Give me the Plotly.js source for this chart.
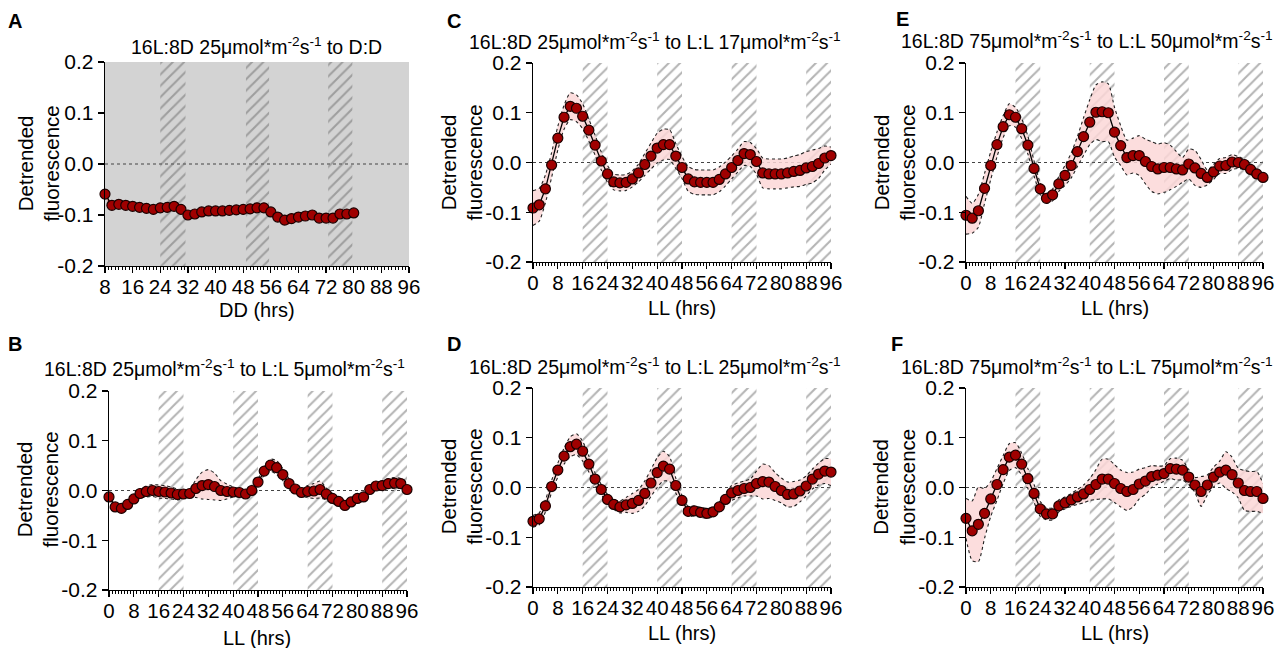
<!DOCTYPE html>
<html>
<head>
<meta charset="utf-8">
<script src="https://cdn.plot.ly/plotly-3.0.1.min.js"></script>
<style>html,body{margin:0;padding:0;background:#fff;}#chart{width:1278px;height:648px;}</style>
</head>
<body>
<div id="chart"></div>
<script>
// ---------- DATA ----------
const hoursDD = [8,10,12,14,16,18,20,22,24,26,28,30,32,34,36,38,40,42,44,46,48,50,52,54,56,58,60,62,64,66,68,70,72,74,76,78,80];
const hoursLL = [0,2,4,6,8,10,12,14,16,18,20,22,24,26,28,30,32,34,36,38,40,42,44,46,48,50,52,54,56,58,60,62,64,66,68,70,72,74,76,78,80,82,84,86,88,90,92,94,96];

const meanA = [-0.059,-0.081,-0.079,-0.081,-0.083,-0.085,-0.087,-0.089,-0.086,-0.085,-0.083,-0.089,-0.100,-0.098,-0.094,-0.092,-0.092,-0.092,-0.091,-0.090,-0.089,-0.088,-0.086,-0.086,-0.094,-0.104,-0.110,-0.107,-0.104,-0.102,-0.100,-0.106,-0.106,-0.106,-0.098,-0.098,-0.096];
const semA  = [0.002,0.002,0.002,0.002,0.002,0.002,0.002,0.002,0.002,0.002,0.002,0.002,0.002,0.002,0.002,0.002,0.002,0.002,0.002,0.002,0.002,0.002,0.002,0.002,0.004,0.008,0.009,0.008,0.007,0.006,0.006,0.006,0.007,0.007,0.004,0.003,0.003];

const meanB = [-0.013,-0.033,-0.036,-0.028,-0.017,-0.006,-0.002,0.000,-0.002,-0.003,-0.005,-0.008,-0.007,-0.006,0.004,0.010,0.012,0.008,0.000,-0.002,-0.003,-0.004,-0.007,0.000,0.017,0.039,0.051,0.046,0.032,0.014,0.003,-0.004,-0.002,-0.001,0.002,-0.007,-0.016,-0.022,-0.030,-0.023,-0.016,-0.013,0.002,0.009,0.010,0.014,0.015,0.014,0.002];
const semB  = [0.004,0.004,0.004,0.004,0.006,0.009,0.011,0.012,0.013,0.013,0.012,0.011,0.009,0.008,0.018,0.027,0.030,0.027,0.020,0.015,0.010,0.008,0.006,0.005,0.006,0.008,0.012,0.014,0.012,0.010,0.008,0.008,0.012,0.015,0.017,0.012,0.010,0.008,0.007,0.007,0.008,0.008,0.008,0.008,0.009,0.010,0.011,0.010,0.008];

const meanC = [-0.0915,-0.085,-0.053,-0.005,0.049,0.091,0.113,0.109,0.093,0.065,0.035,0.003,-0.023,-0.039,-0.041,-0.040,-0.033,-0.021,-0.004,0.013,0.029,0.036,0.036,0.013,-0.010,-0.033,-0.039,-0.040,-0.040,-0.040,-0.034,-0.023,-0.010,0.004,0.018,0.016,0.002,-0.021,-0.023,-0.023,-0.023,-0.021,-0.018,-0.016,-0.011,-0.008,-0.002,0.009,0.014];
const semC  = [0.035,0.033,0.028,0.025,0.024,0.024,0.027,0.027,0.025,0.022,0.020,0.018,0.017,0.016,0.016,0.016,0.016,0.018,0.022,0.026,0.030,0.031,0.030,0.025,0.022,0.025,0.025,0.025,0.025,0.025,0.025,0.024,0.023,0.023,0.024,0.024,0.026,0.030,0.030,0.030,0.030,0.030,0.031,0.032,0.033,0.033,0.030,0.024,0.017];

const meanD = [-0.068,-0.063,-0.037,0.002,0.035,0.063,0.082,0.087,0.073,0.047,0.017,-0.004,-0.024,-0.034,-0.039,-0.035,-0.032,-0.026,-0.012,0.009,0.030,0.043,0.037,0.004,-0.026,-0.048,-0.047,-0.050,-0.052,-0.049,-0.039,-0.024,-0.011,-0.006,-0.002,0.000,0.008,0.012,0.011,0.002,-0.006,-0.014,-0.013,-0.007,0.003,0.017,0.027,0.033,0.031];
const semD  = [0.012,0.012,0.012,0.012,0.014,0.016,0.020,0.021,0.020,0.016,0.012,0.010,0.010,0.010,0.012,0.015,0.020,0.022,0.025,0.027,0.030,0.030,0.025,0.015,0.010,0.010,0.010,0.010,0.010,0.010,0.010,0.012,0.015,0.015,0.015,0.017,0.025,0.035,0.033,0.028,0.025,0.025,0.025,0.022,0.020,0.020,0.022,0.025,0.027];

const meanE = [-0.106,-0.112,-0.097,-0.052,-0.006,0.036,0.072,0.096,0.091,0.068,0.035,-0.012,-0.053,-0.072,-0.065,-0.043,-0.026,-0.006,0.022,0.052,0.081,0.101,0.102,0.100,0.061,0.034,0.010,0.014,0.014,0.002,-0.008,-0.013,-0.010,-0.010,-0.013,-0.015,-0.003,-0.011,-0.022,-0.030,-0.019,-0.007,-0.006,0.001,0.000,-0.004,-0.014,-0.023,-0.030];
const semE  = [0.038,0.030,0.033,0.030,0.028,0.025,0.022,0.022,0.020,0.020,0.018,0.015,0.012,0.010,0.012,0.015,0.020,0.025,0.030,0.038,0.045,0.055,0.060,0.058,0.050,0.040,0.035,0.035,0.040,0.045,0.050,0.050,0.050,0.045,0.035,0.025,0.030,0.035,0.028,0.015,0.015,0.015,0.016,0.015,0.012,0.010,0.010,0.008,0.008];

const meanF = [-0.062,-0.087,-0.074,-0.052,-0.023,0.006,0.036,0.061,0.065,0.047,0.018,-0.012,-0.043,-0.053,-0.053,-0.037,-0.031,-0.025,-0.019,-0.013,-0.004,0.006,0.017,0.017,0.008,-0.002,-0.008,-0.004,0.007,0.013,0.022,0.025,0.028,0.038,0.037,0.035,0.021,0.005,-0.008,0.005,0.021,0.031,0.035,0.026,0.009,-0.006,-0.008,-0.008,-0.022];
const semF  = [0.040,0.060,0.075,0.050,0.035,0.032,0.028,0.027,0.025,0.022,0.020,0.018,0.015,0.012,0.012,0.012,0.012,0.013,0.015,0.018,0.022,0.030,0.040,0.040,0.038,0.037,0.038,0.035,0.030,0.027,0.022,0.018,0.016,0.020,0.022,0.020,0.015,0.015,0.030,0.020,0.020,0.022,0.037,0.035,0.030,0.040,0.040,0.040,0.030];

// subjective-night (hatched) intervals
const nightStartDD = [24, 48.8, 72.6];
const nightEndDD   = [31.3, 55.5, 79.6];
const nightStartLL = [16, 40, 64, 88];
const nightEndLL   = [24, 48, 72, 96];

const xTickVals = [0,8,16,24,32,40,48,56,64,72,80,88,96];
const yTickVals = [-0.2,-0.1,0,0.1,0.2];
const yTickText = ["-0.2","-0.1","0.0","0.1","0.2"];

const titles = {
  A: "16L:8D 25μmol*m<sup>-2</sup>s<sup>-1</sup> to D:D",
  B: "16L:8D 25μmol*m<sup>-2</sup>s<sup>-1</sup> to L:L 5μmol*m<sup>-2</sup>s<sup>-1</sup>",
  C: "16L:8D 25μmol*m<sup>-2</sup>s<sup>-1</sup> to L:L 17μmol*m<sup>-2</sup>s<sup>-1</sup>",
  D: "16L:8D 25μmol*m<sup>-2</sup>s<sup>-1</sup> to L:L 25μmol*m<sup>-2</sup>s<sup>-1</sup>",
  E: "16L:8D 75μmol*m<sup>-2</sup>s<sup>-1</sup> to L:L 50μmol*m<sup>-2</sup>s<sup>-1</sup>",
  F: "16L:8D 75μmol*m<sup>-2</sup>s<sup>-1</sup> to L:L 75μmol*m<sup>-2</sup>s<sup>-1</sup>"
};
const xTitles = {A:"DD (hrs)", B:"LL (hrs)", C:"LL (hrs)", D:"LL (hrs)", E:"LL (hrs)", F:"LL (hrs)"};
const yTitle = "Detrended<br>fluorescence";

// ---------- LAYOUT GEOMETRY (pixels) ----------
const W = 1278, H = 648;
const FONT = "Liberation Sans, Arial, Helvetica, sans-serif";
const px = v => v / W;
const py = v => 1 - v / H;

const panels = [
  {id:"A", ax:"",  x:hoursDD, m:meanA, s:semA, range:[8,96], ns:nightStartDD, ne:nightEndDD, box:[105,409,62,266], gray:true,
   title:[256,46], xt:[257,310], yt:[38.5,164], letter:[15,21]},
  {id:"C", ax:"2", x:hoursLL, m:meanC, s:semC, range:[0,96], ns:nightStartLL, ne:nightEndLL, box:[533,831,63,262],
   title:[655,41], xt:[682,308], yt:[461.5,163], letter:[454,21]},
  {id:"E", ax:"3", x:hoursLL, m:meanE, s:semE, range:[0,96], ns:nightStartLL, ne:nightEndLL, box:[966,1263,63,262],
   title:[1087,40], xt:[1115,308], yt:[894.5,163], letter:[902,19]},
  {id:"B", ax:"4", x:hoursLL, m:meanB, s:semB, range:[0,96], ns:nightStartLL, ne:nightEndLL, box:[109,407,391,590],
   title:[225,368], xt:[257,638], yt:[37.5,490], letter:[15,344]},
  {id:"D", ax:"5", x:hoursLL, m:meanD, s:semD, range:[0,96], ns:nightStartLL, ne:nightEndLL, box:[533,831,388,587],
   title:[655,366], xt:[682,633], yt:[461.5,487], letter:[454,344]},
  {id:"F", ax:"6", x:hoursLL, m:meanF, s:semF, range:[0,96], ns:nightStartLL, ne:nightEndLL, box:[966,1263,388,587],
   title:[1087,366], xt:[1115,633], yt:[894,487], letter:[897,344]}
];

const traces = [];
const shapes = [];
const annotations = [];
const layout = {
  width: W, height: H,
  margin: {l:0, r:0, t:0, b:0, pad:0},
  paper_bgcolor: "#ffffff",
  plot_bgcolor: "rgba(0,0,0,0)",
  showlegend: false,
  hovermode: false,
  font: {family: FONT, color: "#000"},
  barmode: "overlay"
};

panels.forEach(p => {
  const xa = "x" + p.ax, ya = "y" + p.ax;
  const xKey = "xaxis" + p.ax, yKey = "yaxis" + p.ax;
  const [l, r, t, b] = p.box;

  layout[xKey] = {
    domain: [px(l), px(r)], anchor: ya, range: p.range,
    showgrid: false, zeroline: false, showline: true, linecolor: "#000", linewidth: 1.3,
    ticks: "outside", ticklen: 6, tickwidth: 1.3, tickcolor: "#000",
    tickmode: "array", tickvals: xTickVals, tickangle: 0, ticklabelstandoff: -4,
    tickfont: {family: FONT, size: 20.5, color: "#000"},
    minor: {dtick: 1, tick0: 0, ticks: "outside", ticklen: 3, tickwidth: 1, tickcolor: "#000", showgrid: false},
    fixedrange: true
  };
  layout[yKey] = {
    domain: [py(b), py(t)], anchor: xa, range: [-0.2, 0.2],
    showgrid: false, zeroline: false, showline: true, linecolor: "#000", linewidth: 1.3,
    ticks: "outside", ticklen: 6, tickwidth: 1.3, tickcolor: "#000",
    tickmode: "array", tickvals: yTickVals, ticktext: yTickText, tickangle: 0,
    tickfont: {family: FONT, size: 21, color: "#000"},
    fixedrange: true
  };

  if (p.gray) {
    shapes.push({type:"rect", xref: xa + " domain", yref: ya + " domain", x0:0, x1:1, y0:0, y1:1,
      fillcolor:"#d3d3d3", line:{width:0}, layer:"below"});
  }
  // dotted zero line
  shapes.push({type:"line", xref: xa + " domain", yref: ya, x0:0, x1:1, y0:0, y1:0,
    line:{color:"#444", width:1.2, dash:"dot"}, layer:"below"});

  // hatched subjective-night bars
  const yr = layout[yKey].range;
  traces.push({
    type: "bar", xaxis: xa, yaxis: ya,
    x: p.ns.map((s, i) => (s + p.ne[i]) / 2),
    width: p.ns.map((s, i) => p.ne[i] - s),
    y: p.ns.map(() => yr[1] - yr[0]),
    base: yr[0],
    marker: {color: "rgba(0,0,0,0)", line: {width: 0},
      pattern: {shape: "/", fgcolor: "#6a6a6a", bgcolor: "rgba(0,0,0,0)", size: 8, solidity: 0.26, fillmode: "overlay"}},
    hoverinfo: "skip"
  });

  const edgeColor = p.gray ? "#cc1111" : "#222222";
  const lower = p.m.map((v, i) => v - p.s[i]);
  const upper = p.m.map((v, i) => v + p.s[i]);
  traces.push({type:"scatter", mode:"lines", xaxis: xa, yaxis: ya, x: p.x, y: lower,
    line:{color: edgeColor, width: 1.1, dash:"dot", shape:"spline", smoothing:0.6}, hoverinfo:"skip", cliponaxis:false});
  traces.push({type:"scatter", mode:"lines", xaxis: xa, yaxis: ya, x: p.x, y: upper, fill:"tonexty",
    fillcolor: p.gray ? "rgba(255,200,200,0.45)" : "rgba(252,215,215,0.85)",
    line:{color: edgeColor, width: 1.1, dash:"dot", shape:"spline", smoothing:0.6}, hoverinfo:"skip", cliponaxis:false});
  traces.push({type:"scatter", mode:"lines+markers", xaxis: xa, yaxis: ya, x: p.x, y: p.m,
    line:{color:"#000", width:1.3},
    marker:{size:10, color:"#a00000", line:{color:"#1a0000", width:1.2}},
    cliponaxis:false, hoverinfo:"skip"});

  annotations.push({xref:"paper", yref:"paper", x: px(p.title[0]), y: py(p.title[1]), xanchor:"center", yanchor:"middle",
    text: titles[p.id], showarrow:false, font:{family:FONT, size:19.5, color:"#000"}});
  annotations.push({xref:"paper", yref:"paper", x: px(p.xt[0]), y: py(p.xt[1]), xanchor:"center", yanchor:"middle",
    text: xTitles[p.id], showarrow:false, font:{family:FONT, size:20, color:"#000"}});
  annotations.push({xref:"paper", yref:"paper", x: px(p.yt[0]), y: py(p.yt[1]), xanchor:"center", yanchor:"middle",
    text: yTitle, textangle:-90, showarrow:false, font:{family:FONT, size:20.5, color:"#000"}});
  annotations.push({xref:"paper", yref:"paper", x: px(p.letter[0]), y: py(p.letter[1]), xanchor:"center", yanchor:"middle",
    text: "<b>" + p.id + "</b>", showarrow:false, font:{family:FONT, size:20, color:"#000"}});
});

layout.shapes = shapes;
layout.annotations = annotations;

Plotly.newPlot("chart", traces, layout, {staticPlot: true, displayModeBar: false});
</script>
</body>
</html>
